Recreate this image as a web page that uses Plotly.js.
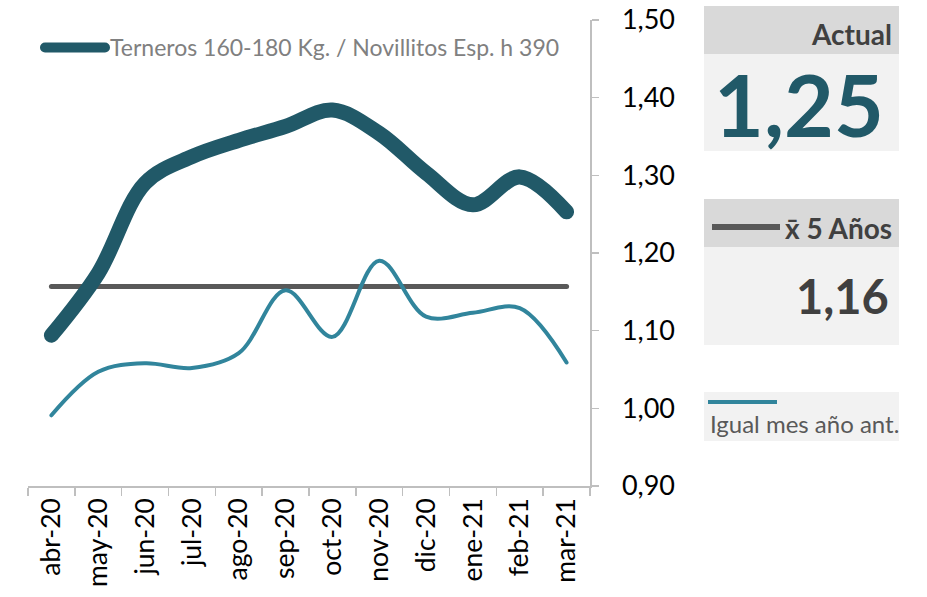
<!DOCTYPE html>
<html>
<head>
<meta charset="utf-8">
<script src="https://cdn.plot.ly/plotly-3.0.1.min.js"></script>
<style>
  html, body { margin: 0; padding: 0; background: #ffffff; }
  #chart { width: 927px; height: 597px; }
</style>
</head>
<body>
<div id="chart"></div>
<script>
// ---- data ----
const months = ["abr-20","may-20","jun-20","jul-20","ago-20","sep-20","oct-20","nov-20","dic-20","ene-21","feb-21","mar-21"];
const ratioActual = [1.094, 1.174, 1.290, 1.324, 1.345, 1.363, 1.384, 1.354, 1.303, 1.262, 1.298, 1.253];
const ratioPrevYear = [0.991, 1.047, 1.058, 1.052, 1.071, 1.152, 1.092, 1.190, 1.118, 1.123, 1.129, 1.059];
const avg5Years = [1.157, 1.157, 1.157, 1.157, 1.157, 1.157, 1.157, 1.157, 1.157, 1.157, 1.157, 1.157];
const seriesName = "Terneros 160-180 Kg. / Novillitos Esp. h 390";
const yTickVals = [0.90, 1.00, 1.10, 1.20, 1.30, 1.40, 1.50];

// ---- geometry ----
const W = 927, H = 597;
const M = {l: 28, r: 337, t: 20, b: 111};
const PW = W - M.l - M.r, PH = H - M.t - M.b;
const px = x => (x - M.l) / PW;         // pixel -> paper x
const py = y => (H - M.b - y) / PH;     // pixel -> paper y

const FONT = "Lato, 'Open Sans', sans-serif";
const DARK = "#215968", TEAL = "#31859C", GREY = "#595959", TXT = "#404040";

const fmt = v => v.toFixed(2).replace(".", ",");

const traces = [
  {x: months, y: avg5Years, type: "scatter", mode: "lines", name: "x̄ 5 Años",
   line: {color: GREY, width: 5}, showlegend: false, hoverinfo: "skip"},
  {x: months, y: ratioPrevYear, type: "scatter", mode: "lines", name: "Igual mes año ant.",
   line: {color: TEAL, width: 4, shape: "spline", smoothing: 1}, showlegend: false},
  {x: months, y: ratioActual, type: "scatter", mode: "lines", name: seriesName,
   line: {color: DARK, width: 15, shape: "spline", smoothing: 1}, showlegend: true}
];

function box(x0, y0, x1, y1, color) {
  return {type: "rect", xref: "paper", yref: "paper", x0: px(x0), x1: px(x1), y0: py(y1), y1: py(y0),
          fillcolor: color, line: {width: 0}, layer: "below"};
}
function seg(x0, x1, y, color, w) {
  return {type: "line", xref: "paper", yref: "paper", x0: px(x0), x1: px(x1), y0: py(y), y1: py(y),
          line: {color: color, width: w}};
}
function label(text, xRight, yc, size, color, bold, anchor) {
  return {text: bold ? "<b>" + text + "</b>" : text, xref: "paper", yref: "paper",
          x: px(xRight), y: py(yc), xanchor: anchor || "right", yanchor: "middle",
          showarrow: false, font: {family: FONT, size: size, color: color}};
}

const shapes = [
  box(704, 6, 899, 54, "#D9D9D9"),
  box(704, 54, 899, 151, "#F2F2F2"),
  box(704, 199, 899, 247, "#D9D9D9"),
  box(704, 247, 899, 345, "#F2F2F2"),
  box(704, 392, 899, 441, "#F2F2F2"),
  seg(712, 780, 227, GREY, 6),
  seg(708, 777, 402, TEAL, 4)
];

const annotations = [
  label("Actual", 894, 34, 28, TXT, true),
  label(fmt(ratioActual[ratioActual.length - 1]), 886, 104, 86, DARK, true),
  label("x̄ 5 Años", 894, 228, 28, TXT, true),
  label(fmt(avg5Years[avg5Years.length - 1]), 891, 296, 47, TXT, true),
  label("Igual mes año ant.", 708, 423, 24, GREY, false, "left")
];

const layout = {
  width: W, height: H,
  margin: M,
  paper_bgcolor: "#ffffff", plot_bgcolor: "#ffffff",
  separators: ",.",
  font: {family: FONT, color: "#000000"},
  showlegend: true,
  legend: {x: px(40), y: py(26), xanchor: "left", yanchor: "top", bgcolor: "rgba(0,0,0,0)",
           font: {family: FONT, size: 23, color: "#808080"}, itemwidth: 60},
  xaxis: {type: "category", range: [-0.5, months.length - 0.5], showline: true, linecolor: "#BFBFBF",
          linewidth: 1.5, ticks: "outside", tickson: "boundaries", ticklen: 8, tickcolor: "#BFBFBF",
          tickwidth: 1.5, tickangle: -90, showgrid: false, zeroline: false,
          tickfont: {family: FONT, size: 26.5, color: "#000000"}, fixedrange: true},
  yaxis: {side: "right", range: [0.9, 1.5], tickvals: yTickVals, tickformat: ".2f",
          showline: true, linecolor: "#BFBFBF", linewidth: 1.5, ticks: "outside", ticklen: 7,
          tickcolor: "#BFBFBF", tickwidth: 1.5, showgrid: false, zeroline: false,
          ticklabelstandoff: 18,
          tickfont: {family: FONT, size: 27, color: "#000000"}, fixedrange: true},
  shapes: shapes,
  annotations: annotations
};

Plotly.newPlot("chart", traces, layout, {displayModeBar: false, staticPlot: true}).then(() => {
  document.querySelectorAll(".scatterlayer path.js-line, .legend path").forEach(p => {
    p.style.strokeLinecap = "round";
    p.style.strokeLinejoin = "round";
  });
});
</script>
</body>
</html>
